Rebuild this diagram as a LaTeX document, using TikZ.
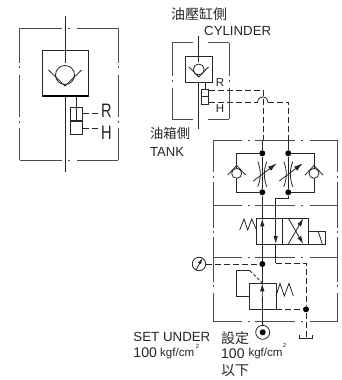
\documentclass[tikz,border=0pt]{standalone}
\usepackage{fontspec}
\setmainfont{Liberation Sans}
\newfontfamily\cjk{Noto Sans CJK TC}
\usetikzlibrary{arrows.meta}
\tikzset{
  sym/.style={line width=0.8bp,draw=black!85},
  heavy/.style={line width=1.5bp,draw=black},
  midbar/.style={line width=1.1bp,draw=black!85},
  frame/.style={line width=0.8bp,draw=black!70},
  dsh/.style={line width=0.8bp,draw=black!85,dash pattern=on 6bp off 3bp},
  dotn/.style={circle,fill=black,inner sep=0pt,minimum size=6bp},
  txt/.style={inner sep=0pt,text=black!85},
  tipa/.style={-{Latex[length=8bp,width=4.5bp]}},
}
\newcommand{\fs}[1]{\fontsize{#1bp}{#1bp}\selectfont}
\begin{document}
\begin{tikzpicture}[x=1bp,y=-1bp]
\useasboundingbox (0,0) rectangle (342,380);
% ---------- left symbol
\foreach \y in {28,160}{
 \draw[frame] (19.5,\y)--(61.5,\y) (67.5,\y)--(69.5,\y) (77.3,\y)--(118,\y);}
\foreach \x in {19.5,118}{
 \draw[frame] (\x,28)--(\x,63) (\x,66)--(\x,68) (\x,75)--(\x,117) (\x,120.5)--(\x,122.5) (\x,128.3)--(\x,160);}
\draw[sym] (65,16)--(65,172);
\draw[sym,fill=white] (42.5,50.5) rectangle (88,96);
\draw[heavy] (42.5,96)--(88,96);
\draw[sym] (65,75) circle[radius=9.5bp];
\draw[sym] (48.5,70)--(65,86)--(81.5,70);
\draw[sym] (65,50.5)--(65,63);
\draw[sym] (70.3,107.5) rectangle (82.5,134.5);
\draw[midbar] (70.3,121)--(82.5,121);
\draw[sym] (76.4,96)--(76.4,121);
\draw[dsh] (82.5,113)--(100,113);
\draw[dsh] (82.5,128)--(100,128);
\node[txt,font=\fs{19.5},xscale=.75,transform shape] (rbig) at (106.5,110.5) {R};
\node[txt,font=\fs{19.5},xscale=.75,transform shape] (hbig) at (106.5,133) {H};
% ---------- middle symbol
\foreach \y in {42.7,119}{
 \draw[frame] (172.3,\y)--(193,\y) (208,\y)--(229,\y);}
\foreach \x in {172.3,229}{
 \draw[frame] (\x,42.7)--(\x,76) (\x,80)--(\x,81.5) (\x,88.3)--(\x,119);}
\draw[sym] (198.7,36)--(198.7,129);
\draw[sym,fill=white] (185.5,56) rectangle (212,82);
\draw[sym] (198.7,56)--(198.7,62);
\draw[sym] (198.7,69.5) circle[radius=5.5bp];
\draw[sym] (189,67)--(198.7,77)--(208.5,67);
\draw[sym] (205,82)--(205,96);
\draw[sym,fill=white] (201.5,89) rectangle (208.5,104.5);
\draw[midbar] (201.5,96.5)--(208.5,96.5);
\draw[dsh] (208.5,90)--(263,90)--(263,140.3);
\draw[dsh] (208.5,102)--(257.7,102);
\draw[sym] (257.7,102) .. controls (258,95) and (267.5,95) .. (267.7,102);
\draw[dsh] (267.7,102)--(288.3,102)--(288.3,140.3);
\node[txt,font=\fs{11.5}] (rsm) at (220,83) {R};
\node[txt,font=\fs{11.5}] (hsm) at (220,109) {H};
% ---------- block frame
\foreach \y in {140.3,205.3,257.3,321.7}{
 \draw[frame] (213.3,\y)--(242.3,\y) (247.5,\y)--(249.5,\y) (255,\y)--(295,\y) (301,\y)--(303,\y) (309.5,\y)--(337.7,\y);}
\foreach \x in {213.3,337.7}{
 \draw[frame] (\x,140.3)--(\x,172) (\x,176)--(\x,178) (\x,181.7)--(\x,228) (\x,231)--(\x,233) (\x,237)--(\x,281.7) (\x,285)--(\x,287) (\x,293)--(\x,321.7);}
% ---------- flow controls
\node[dotn] (j1) at (262.3,153.3) {};
\node[dotn] (j2) at (288.3,153.3) {};
\node[dotn] (j3) at (262.3,192.3) {};
\node[dotn] (j4) at (288.3,192.3) {};
\draw[sym] (j1)--(236.7,153.3)--(236.7,192.3)--(j3);
\draw[sym] (j2)--(314,153.3)--(314,192.3)--(j4);
\draw[sym] (262.3,140.3)--(j1)--(j3);
\draw[sym] (288.3,140.3)--(j2)--(j4);
\foreach \cx in {236.7,314}{
 \draw[sym,fill=white] (\cx,173.3) circle[radius=5bp];
 \draw[sym] (\cx-9,175)--(\cx,165.5)--(\cx+9,175);}
\foreach \tx in {262.3,288.3}{
 \draw[sym] (\tx-4.5,161.7) .. controls (\tx-1.2,170) and (\tx-1.2,178) .. (\tx-4.5,186.7);
 \draw[sym] (\tx+4.5,161.7) .. controls (\tx+1.2,170) and (\tx+1.2,178) .. (\tx+4.5,186.7);
 \draw[sym,-{Latex[length=9bp,width=5bp]}] (\tx-9,181)--(\tx+14.5,163.3);}
% ---------- directional valve
\draw[sym] (256.7,218.3) rectangle (308.3,244);
\draw[sym] (282.3,218.3)--(282.3,244);
\draw[sym] (239.7,230)--(244,219)--(247.7,230)--(251.7,219)--(256.7,230);
\draw[sym] (308.3,231.7)--(325,231.7)--(325,244)--(308.3,244);
\draw[sym] (318.3,231.7)--(322.3,244);
\node[dotn] (j5) at (262.3,264) {};
\draw[sym] (j3)--(262.3,218.3);
\draw[sym,tipa] (262.3,244)--(262.3,218.3);
\draw[sym] (262.3,244)--(j5);
\draw[sym] (j4)--(288.3,198.3)--(275.7,198.3)--(275.7,205.3);
\draw[sym,tipa] (275.7,205.3)--(275.7,244);
\draw[sym] (275.7,244)--(275.7,263);
\draw[sym,tipa] (288.3,244)--(303.3,218.3);
\draw[sym,tipa] (288.3,218.3)--(303.3,244);
% ---------- gauge and pilot lines
\node[circle,draw=black!85,line width=0.8bp,inner sep=0pt,minimum size=13.5bp] (gauge) at (199,264) {};
\draw[sym,-{Latex[length=6bp,width=3.5bp]}] (196,270)--(202.5,258);
\draw[dsh] (gauge)--(j5);
\node[dotn] (j6) at (306,309.3) {};
\coordinate (tank) at (306,338);
\draw[dsh] (275.7,263.3)--(306,263.3)--(j6);
\draw[dsh] (j6)--(tank);
\draw[sym] (299.3,334.5)--(299.3,338)--(312.7,338)--(312.7,334.5);
% ---------- relief valve
\draw[sym] (249.3,283) rectangle (276,309.3);
\draw[sym] (276,296)--(280,283.3)--(284.3,296)--(289,283.3)--(293.3,296);
\draw[sym] (249.3,296.3)--(236.7,296.3)--(236.7,270.7)--(250,270.7);
\draw[sym,dash pattern=on 3bp off 2bp] (250,270.7)--(262.3,283);
\node[circle,draw=black!85,line width=0.8bp,inner sep=0pt,minimum size=14bp] (port) at (262.7,332.3) {};
\node[dotn] (portdot) at (262.7,332.3) {};
\draw[sym] (j5)--(262.3,283);
\draw[sym,tipa] (262.3,292)--(262.3,283.3);
\draw[sym] (262.3,292)--(port);
\draw[dsh] (276,309.3)--(j6);
% ---------- labels
\node[txt,font=\cjk\fs{14}] (t1) at (199,14) {油壓缸側};
\node[txt,font=\fs{13.25},anchor=west] (t2) at (204,31) {CYLINDER};
\node[txt,font=\cjk\fs{13.3},anchor=west] (t3) at (150,133) {油箱側};
\node[txt,font=\fs{13.1},anchor=west] (t4) at (150,152) {TANK};
\node[txt,font=\fs{13.3},anchor=west] (t5) at (133.3,336.7) {SET UNDER};
\node[txt,font=\fs{14},anchor=west] (t6) at (133.3,352.7) {100};
\node[txt,font=\fs{11.6},anchor=west] (t7) at (160,353) {kgf/cm};
\node[txt,font=\fs{6}] (t8) at (197.5,346.5) {2};
\node[txt,font=\cjk\fs{14},anchor=west] (t9) at (221,337.7) {設定};
\node[txt,font=\fs{14},anchor=west] (t10) at (221,353.3) {100};
\node[txt,font=\fs{11.6},anchor=west] (t11) at (248.3,353.5) {kgf/cm};
\node[txt,font=\fs{6}] (t12) at (284.5,345.5) {2};
\node[txt,font=\cjk\fs{14},anchor=west] (t13) at (221,371) {以下};
\end{tikzpicture}
\end{document}
